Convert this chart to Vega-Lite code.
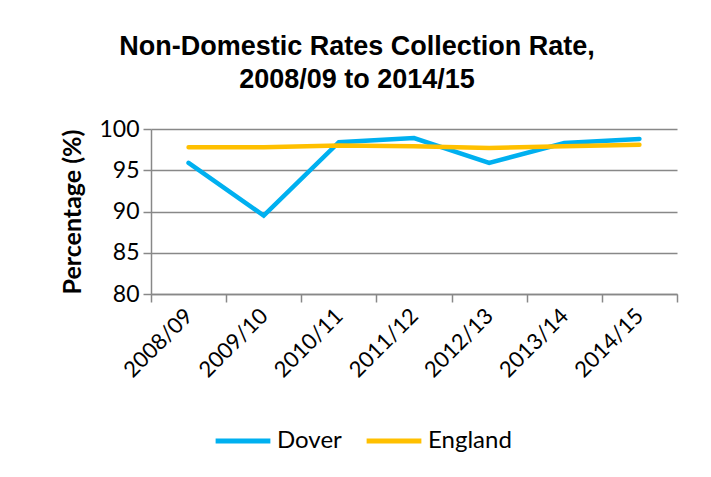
{
  "$schema": "https://vega.github.io/schema/vega-lite/v6.json",
  "width": 526,
  "height": 165,
  "autosize": {"type": "none"},
  "padding": {"left": 151, "top": 129, "right": 34, "bottom": 183},
  "background": "white",
  "title": {
    "text": ["Non-Domestic Rates Collection Rate,", "2008/09 to 2014/15"],
    "font": "Liberation Sans",
    "fontSize": 27,
    "fontWeight": "bold",
    "color": "black",
    "lineHeight": 33,
    "anchor": "middle",
    "frame": "group",
    "dx": -57,
    "offset": 24
  },
  "data": {
    "values": [
      {"year": "2008/09", "area": "Dover", "rate": 95.9},
      {"year": "2009/10", "area": "Dover", "rate": 89.5},
      {"year": "2010/11", "area": "Dover", "rate": 98.4},
      {"year": "2011/12", "area": "Dover", "rate": 98.9},
      {"year": "2012/13", "area": "Dover", "rate": 95.9},
      {"year": "2013/14", "area": "Dover", "rate": 98.3},
      {"year": "2014/15", "area": "Dover", "rate": 98.8},
      {"year": "2008/09", "area": "England", "rate": 97.8},
      {"year": "2009/10", "area": "England", "rate": 97.8},
      {"year": "2010/11", "area": "England", "rate": 98.0},
      {"year": "2011/12", "area": "England", "rate": 97.9},
      {"year": "2012/13", "area": "England", "rate": 97.7},
      {"year": "2013/14", "area": "England", "rate": 97.9},
      {"year": "2014/15", "area": "England", "rate": 98.1}
    ]
  },
  "mark": {"type": "line", "strokeWidth": 4.5, "strokeCap": "round", "strokeJoin": "miter"},
  "encoding": {
    "x": {
      "field": "year",
      "type": "ordinal",
      "scale": {"type": "band", "paddingInner": 0, "paddingOuter": 0},
      "axis": {
        "title": null,
        "labelAngle": -45,
        "labelAlign": "right",
        "labelBaseline": "middle",
        "labelFont": "Lato",
        "labelFontSize": 22,
        "labelColor": "black",
        "labelPadding": 10,
        "tickBand": "extent",
        "tickSize": 8,
        "tickColor": "#888888",
        "domainColor": "#888888",
        "domainWidth": 1.5,
        "tickWidth": 1.5,
        "grid": false
      }
    },
    "y": {
      "field": "rate",
      "type": "quantitative",
      "scale": {"domain": [80, 100], "nice": false, "zero": false},
      "axis": {
        "title": "Percentage (%)",
        "titleFont": "Lato",
        "titleFontSize": 25,
        "titleFontWeight": "bold",
        "titleColor": "black",
        "titlePadding": 13,
        "values": [80, 85, 90, 95, 100],
        "labelFont": "Lato",
        "labelFontSize": 23,
        "labelColor": "black",
        "labelPadding": 4,
        "tickSize": 8,
        "tickColor": "#888888",
        "tickWidth": 1.5,
        "domainColor": "#888888",
        "domainWidth": 1.5,
        "grid": true,
        "gridColor": "#888888",
        "gridWidth": 1.5
      }
    },
    "color": {
      "field": "area",
      "type": "nominal",
      "scale": {"domain": ["Dover", "England"], "range": ["#00B0F0", "#FFC000"]},
      "legend": {
        "title": null,
        "orient": "none",
        "legendX": 62,
        "legendY": 282,
        "direction": "horizontal",
        "symbolType": "stroke",
        "symbolSize": 3000,
        "symbolStrokeWidth": 5,
        "labelFont": "Lato",
        "labelFontSize": 24,
        "labelColor": "black",
        "labelOffset": 4,
        "columnPadding": 14
      }
    }
  },
  "config": {"view": {"stroke": null}}
}
